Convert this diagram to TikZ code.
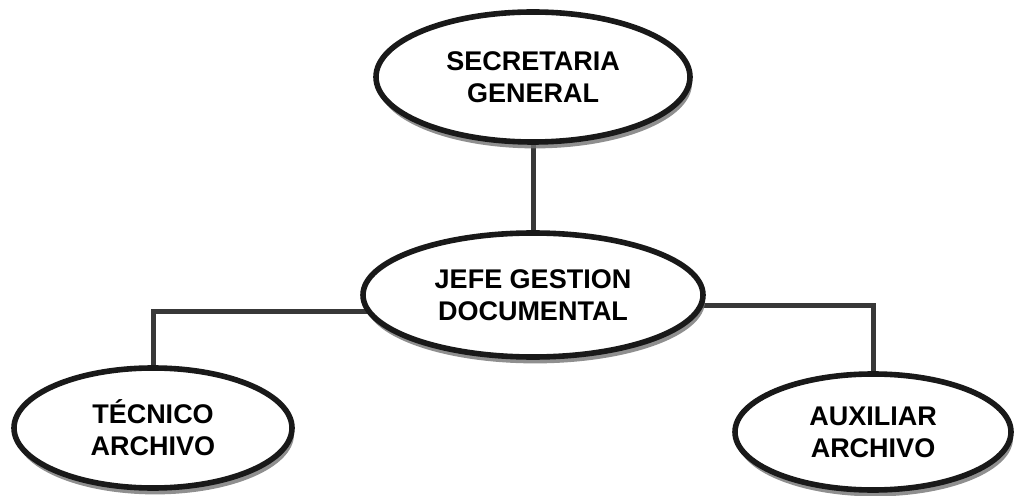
\documentclass[tikz,border=0pt]{standalone}
\usepackage{fontspec}
\setmainfont{Liberation Sans}
\usetikzlibrary{
    positioning,
    shapes.geometric,
    shadows,
    backgrounds
}
\tikzset{
    cargo/.style={
        ellipse,
        draw=black!90,
        line width=2.8pt,
        fill=white,
        inner sep=0pt,
        align=center,
        font=\bfseries\fontsize{13.5}{16}\selectfont,
        drop shadow={shadow xshift=1pt, shadow yshift=-3.2pt,
                     fill=black!55, opacity=0.8}
    },
    enlace/.style={
        draw=black!78,
        line width=2.5pt
    }
}

\begin{document}
\begin{tikzpicture}[
    on grid
]
    \useasboundingbox (0,0) rectangle (508pt,-248pt);

    % Cargos
    \node[cargo, minimum width=157pt, minimum height=65pt] (sec) at (266.5pt,-38.5pt) {SECRETARIA\\GENERAL};
    \node[cargo, minimum width=170pt, minimum height=62pt] (jefe) [below=109pt of sec] {JEFE GESTION\\DOCUMENTAL};
    \node[cargo, minimum width=139pt, minimum height=60pt] (tec) [below left=66.5pt and 190pt of jefe] {TÉCNICO\\ARCHIVO};
    \node[cargo, minimum width=138pt, minimum height=58pt] (aux) [below right=68.5pt and 170pt of jefe] {AUXILIAR\\ARCHIVO};

    % Lineas
    \begin{scope}[on background layer]
        \draw[enlace] (sec) -- (jefe);
        \draw[enlace] ([yshift=-8.5pt]jefe.center) -| (tec);
        \draw[enlace] ([yshift=-5.5pt]jefe.center) -| (aux);
    \end{scope}

\end{tikzpicture}
\end{document}
